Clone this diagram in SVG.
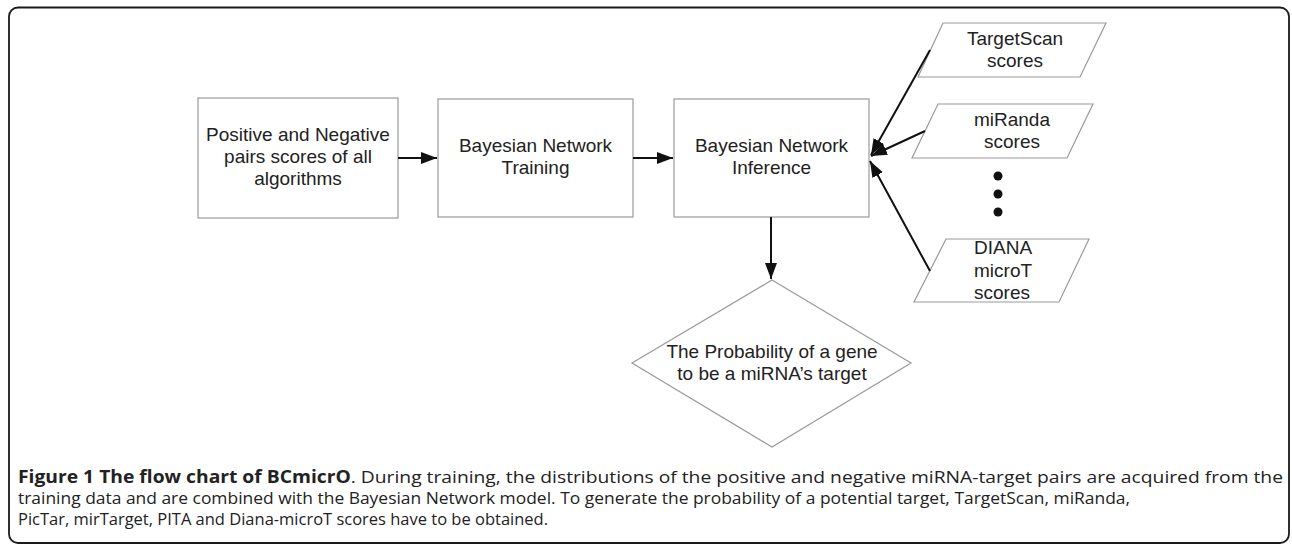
<svg xmlns="http://www.w3.org/2000/svg" width="1292" height="544" viewBox="0 0 1292 544">
<style>
.frame{fill:none;stroke:#1a1a1a;stroke-width:1.8}
.box{fill:#fff;stroke:#9a9a9a;stroke-width:1.2}
.lbl{font-family:"Liberation Sans",Arial,sans-serif;font-size:19px;fill:#222;text-anchor:middle}
.lbl.left{text-anchor:start}
.edge{fill:none;stroke:#111;stroke-width:2}
.cap{font-family:"Open Sans","Noto Sans",sans-serif;font-size:17px;fill:#222}
.capb{font-weight:bold}
</style>
<defs>
<marker id="ah" markerUnits="userSpaceOnUse" markerWidth="17" markerHeight="13" refX="16" refY="6" orient="auto">
<path d="M0,0 L16,6 L0,12 z" fill="#111"/>
</marker>
</defs>
<rect class="frame" x="9" y="7.5" width="1280" height="535.5" rx="9"/>
<g id="node-pos-neg">
<rect class="box" x="198" y="98" width="200" height="120"/>
<text class="lbl" x="298" y="141">Positive and Negative</text>
<text class="lbl" x="298" y="163">pairs scores of all</text>
<text class="lbl" x="298" y="185">algorithms</text>
</g>
<g id="node-training">
<rect class="box" x="438" y="99" width="195" height="118"/>
<text class="lbl" x="535.5" y="152">Bayesian Network</text>
<text class="lbl" x="535.5" y="174">Training</text>
</g>
<g id="node-inference">
<rect class="box" x="674" y="99" width="195" height="118"/>
<text class="lbl" x="771.5" y="152">Bayesian Network</text>
<text class="lbl" x="771.5" y="174">Inference</text>
</g>
<g id="node-targetscan">
<polygon class="box" points="943,23 1106,23 1080,77 918,77"/>
<text class="lbl" x="1015" y="45">TargetScan</text>
<text class="lbl" x="1015" y="67">scores</text>
</g>
<g id="node-miranda">
<polygon class="box" points="938,104 1093,104 1067,158 912,158"/>
<text class="lbl" x="1012" y="126">miRanda</text>
<text class="lbl" x="1012" y="148">scores</text>
</g>
<g id="node-dots">
<circle cx="998" cy="176" r="4.5" fill="#111"/>
<circle cx="998" cy="194" r="4.5" fill="#111"/>
<circle cx="998" cy="212" r="4.5" fill="#111"/>
</g>
<g id="node-diana">
<polygon class="box" points="946,239 1089,239 1059,302 914,302"/>
<text class="lbl left" x="974" y="254">DIANA</text>
<text class="lbl left" x="974" y="277">microT</text>
<text class="lbl left" x="974" y="299">scores</text>
</g>
<g id="node-probability">
<polygon class="box" points="772,280 911,363 772,447 632,363"/>
<text class="lbl" x="772" y="358">The Probability of a gene</text>
<text class="lbl" x="772" y="380">to be a miRNA’s target</text>
</g>
<g id="connectors">
<line class="edge" x1="398" y1="158" x2="437" y2="158" marker-end="url(#ah)"/>
<line class="edge" x1="633" y1="158" x2="673" y2="158" marker-end="url(#ah)"/>
<line class="edge" x1="771" y1="217" x2="771" y2="279" marker-end="url(#ah)"/>
<line class="edge" x1="930" y1="50" x2="871" y2="155" marker-end="url(#ah)"/>
<line class="edge" x1="925" y1="131" x2="871" y2="156" marker-end="url(#ah)"/>
<line class="edge" x1="930" y1="271" x2="870" y2="161" marker-end="url(#ah)"/>
</g>
<g id="caption">
<text class="cap" x="18" y="483" textLength="1265" lengthAdjust="spacingAndGlyphs"><tspan class="capb">Figure 1 The flow chart of BCmicrO</tspan>. During training, the distributions of the positive and negative miRNA-target pairs are acquired from the</text>
<text class="cap" x="18" y="504" textLength="1112" lengthAdjust="spacingAndGlyphs">training data and are combined with the Bayesian Network model. To generate the probability of a potential target, TargetScan, miRanda,</text>
<text class="cap" x="18" y="525" textLength="530" lengthAdjust="spacingAndGlyphs">PicTar, mirTarget, PITA and Diana-microT scores have to be obtained.</text>
</g>
</svg>
